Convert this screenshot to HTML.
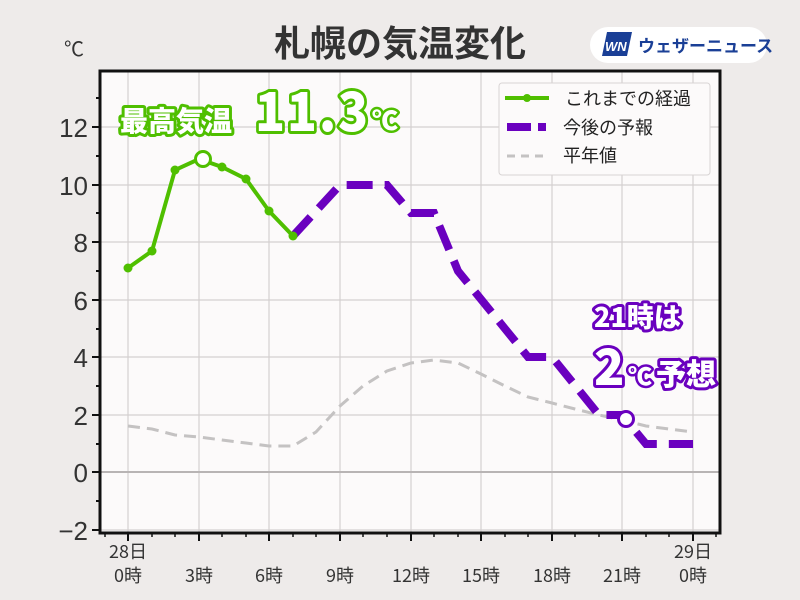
<!DOCTYPE html>
<html><head><meta charset="utf-8"><style>
body{margin:0;background:#eeebea;}
svg{display:block;font-family:"Liberation Sans","Noto Sans CJK JP",sans-serif;}
</style></head><body>
<svg width="800" height="600" xmlns="http://www.w3.org/2000/svg">
<rect width="800" height="600" fill="#eeebea"/>
<text x="400" y="56" text-anchor="middle" font-size="36" font-weight="bold" fill="#333" font-family="Noto Sans CJK JP,sans-serif">札幌の気温変化</text>
<text x="64" y="56" font-size="20" fill="#333">℃</text>
<rect x="590" y="27" width="177" height="36" rx="18" fill="#fff"/>
<polygon points="607,32 632,32 627,56 602,56" fill="#1a3f96"/>
<text x="605" y="51" font-size="13" font-weight="bold" font-style="italic" fill="#fff">WN</text>
<text x="638" y="52" font-size="17" font-weight="bold" fill="#1a3f96" font-family="Noto Sans CJK JP,sans-serif">ウェザーニュース</text>
<rect x="100" y="71" width="620" height="462" fill="#fcfafa"/>
<g stroke="#d4d0d0" stroke-width="1.2">
<line x1="128" y1="71" x2="128" y2="533"/><line x1="199" y1="71" x2="199" y2="533"/><line x1="269" y1="71" x2="269" y2="533"/><line x1="340" y1="71" x2="340" y2="533"/><line x1="411" y1="71" x2="411" y2="533"/><line x1="481" y1="71" x2="481" y2="533"/><line x1="552" y1="71" x2="552" y2="533"/><line x1="622" y1="71" x2="622" y2="533"/><line x1="693" y1="71" x2="693" y2="533"/>
<line x1="100" y1="530" x2="720" y2="530"/><line x1="100" y1="415" x2="720" y2="415"/><line x1="100" y1="357" x2="720" y2="357"/><line x1="100" y1="300" x2="720" y2="300"/><line x1="100" y1="242" x2="720" y2="242"/><line x1="100" y1="185" x2="720" y2="185"/><line x1="100" y1="127" x2="720" y2="127"/>
</g>
<line x1="100" y1="472" x2="720" y2="472" stroke="#b8b4b4" stroke-width="2"/>
<polyline fill="none" stroke="#c4c2c2" stroke-width="3" stroke-dasharray="12,7" points="128,426 152,429 175,435 199,437 222,440 246,443 269,446 293,446 316,432 340,406 363,386 387,371 411,363 434,360 458,363 481,374 505,386 528,397 552,403 575,409 599,415 622,420 646,426 669,429 693,432"/>
<polyline fill="none" stroke="#6a00bf" stroke-width="8" stroke-dasharray="26,12" points="293,236 340,185 387,185 411,213 434,213 458,271 528,357 552,357 599,415 622,415 646,444 693,444"/>
<polyline fill="none" stroke="#4fbf00" stroke-width="4" points="128,268 152,251 175,170 199,159 222,167 246,179 269,211 293,236"/>
<g fill="#4fbf00"><circle cx="128" cy="268" r="4.5"/><circle cx="152" cy="251" r="4.5"/><circle cx="175" cy="170" r="4.5"/><circle cx="222" cy="167" r="4.5"/><circle cx="246" cy="179" r="4.5"/><circle cx="269" cy="211" r="4.5"/><circle cx="293" cy="236" r="4.5"/></g>
<circle cx="203" cy="159" r="7.5" fill="#fff" stroke="#4fbf00" stroke-width="3"/>
<circle cx="626" cy="419" r="7.5" fill="#fff" stroke="#6a00bf" stroke-width="3"/>
<rect x="499" y="83" width="211" height="92" rx="3" fill="#fcfafa" stroke="#d8d4d4"/>
<line x1="505" y1="98" x2="549" y2="98" stroke="#4fbf00" stroke-width="4"/><circle cx="527" cy="98" r="4" fill="#4fbf00"/>
<line x1="507" y1="127" x2="531" y2="127" stroke="#6a00bf" stroke-width="8"/><line x1="538" y1="127" x2="546" y2="127" stroke="#6a00bf" stroke-width="8"/>
<line x1="507" y1="156" x2="547" y2="156" stroke="#c4c2c2" stroke-width="3" stroke-dasharray="8,6"/>
<g font-size="18" fill="#222" font-family="Noto Sans CJK JP,sans-serif"><text x="565" y="105">これまでの経過</text><text x="563" y="134">今後の予報</text><text x="563" y="162">平年値</text></g>
<g stroke="#111" stroke-width="3" fill="none"><rect x="100" y="71" width="620" height="462"/></g>
<g stroke="#111" stroke-width="2">
<line x1="92" y1="530" x2="100" y2="530"/><line x1="92" y1="472" x2="100" y2="472"/><line x1="92" y1="415" x2="100" y2="415"/><line x1="92" y1="357" x2="100" y2="357"/><line x1="92" y1="300" x2="100" y2="300"/><line x1="92" y1="242" x2="100" y2="242"/><line x1="92" y1="185" x2="100" y2="185"/><line x1="92" y1="127" x2="100" y2="127"/>
<line x1="96" y1="501" x2="100" y2="501"/><line x1="96" y1="444" x2="100" y2="444"/><line x1="96" y1="386" x2="100" y2="386"/><line x1="96" y1="329" x2="100" y2="329"/><line x1="96" y1="271" x2="100" y2="271"/><line x1="96" y1="213" x2="100" y2="213"/><line x1="96" y1="156" x2="100" y2="156"/><line x1="96" y1="98" x2="100" y2="98"/>
<line x1="128" y1="533" x2="128" y2="541"/><line x1="199" y1="533" x2="199" y2="541"/><line x1="269" y1="533" x2="269" y2="541"/><line x1="340" y1="533" x2="340" y2="541"/><line x1="411" y1="533" x2="411" y2="541"/><line x1="481" y1="533" x2="481" y2="541"/><line x1="552" y1="533" x2="552" y2="541"/><line x1="622" y1="533" x2="622" y2="541"/><line x1="693" y1="533" x2="693" y2="541"/>
</g>
<g stroke="#111" stroke-width="1.5">
<line x1="105" y1="533" x2="105" y2="537"/><line x1="152" y1="533" x2="152" y2="537"/><line x1="175" y1="533" x2="175" y2="537"/><line x1="222" y1="533" x2="222" y2="537"/><line x1="246" y1="533" x2="246" y2="537"/><line x1="293" y1="533" x2="293" y2="537"/><line x1="316" y1="533" x2="316" y2="537"/><line x1="363" y1="533" x2="363" y2="537"/><line x1="387" y1="533" x2="387" y2="537"/><line x1="434" y1="533" x2="434" y2="537"/><line x1="458" y1="533" x2="458" y2="537"/><line x1="505" y1="533" x2="505" y2="537"/><line x1="528" y1="533" x2="528" y2="537"/><line x1="575" y1="533" x2="575" y2="537"/><line x1="599" y1="533" x2="599" y2="537"/><line x1="646" y1="533" x2="646" y2="537"/><line x1="669" y1="533" x2="669" y2="537"/><line x1="716" y1="533" x2="716" y2="537"/>
</g>
<g font-size="26" fill="#333" text-anchor="end"><text x="88" y="540">−2</text><text x="88" y="482">0</text><text x="88" y="425">2</text><text x="88" y="367">4</text><text x="88" y="310">6</text><text x="88" y="252">8</text><text x="88" y="195">10</text><text x="88" y="137">12</text></g>
<g font-size="18" fill="#333" text-anchor="middle" font-family="Noto Sans CJK JP,sans-serif">
<text x="128" y="558">28日</text><text x="128" y="582">0時</text><text x="199" y="582">3時</text><text x="269" y="582">6時</text><text x="340" y="582">9時</text><text x="411" y="582">12時</text><text x="481" y="582">15時</text><text x="552" y="582">18時</text><text x="622" y="582">21時</text><text x="693" y="558">29日</text><text x="693" y="582">0時</text></g>
<g font-family="Noto Sans CJK JP,sans-serif" font-weight="900" fill="#fff" stroke-linejoin="round" paint-order="stroke">
<text x="120" y="131" font-size="28" stroke="#4fbf00" stroke-width="6">最高気温</text>
<text x="255" y="131" font-size="54" letter-spacing="2" textLength="115" lengthAdjust="spacingAndGlyphs" stroke="#4fbf00" stroke-width="6">11.3</text>
<text x="372" y="130" font-size="26" stroke="#4fbf00" stroke-width="5">℃</text>
<text x="594" y="327" font-size="27" stroke="#6a00bf" stroke-width="6">21時は</text>
<text x="594" y="385" font-size="50" stroke="#6a00bf" stroke-width="6">2</text>
<text x="628" y="385" font-size="24" stroke="#6a00bf" stroke-width="5">℃</text>
<text x="656" y="385" font-size="30" stroke="#6a00bf" stroke-width="6">予想</text>
</g>
</svg>
</body></html>
